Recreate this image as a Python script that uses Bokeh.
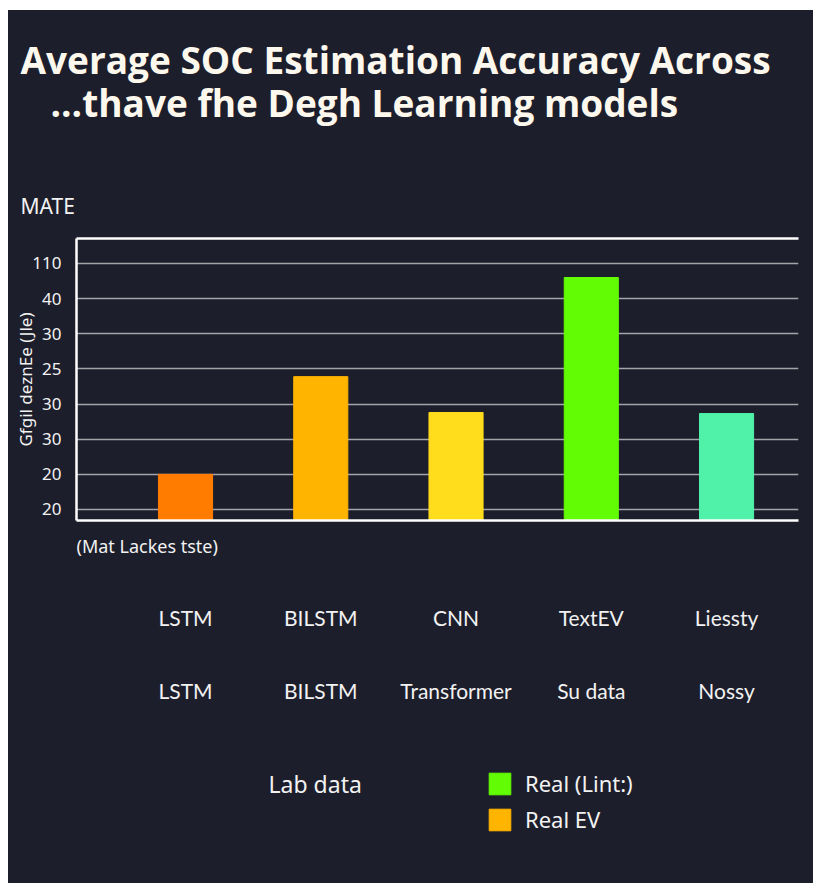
from bokeh.plotting import figure
from bokeh.layouts import column
from bokeh.core.properties import value
from bokeh.models import (ColumnDataSource, Range1d, FixedTicker, LinearAxis,
                          Label, LabelSet, Legend, LegendItem, Title)
from bokeh.embed import file_html
from bokeh.resources import INLINE

# ---- data ----
title_line1 = "Average SOC Estimation Accuracy Across"
title_line2 = "...thave fhe Degh Learning models"
models_top = ["LSTM", "BILSTM", "CNN", "TextEV", "Liessty"]
models_bottom = ["LSTM", "BILSTM", "Transformer", "Su data", "Nossy"]
values = [1.0, 3.78, 2.76, 6.6, 2.73]
bar_colors = ["#ff7c00", "#ffb400", "#ffdc1c", "#62fc05", "#4ff2a8"]
y_tick_pos = [0, 1, 2, 3, 4, 5, 6, 7]
y_tick_labels = ["20", "20", "30", "30", "25", "30", "40", "110"]
y_axis_title = "Gfgil deznEe (Jle)"
unit_label = "MATE"
note_label = "(Mat Lackes tste)"
legend_note = "Lab data"
legend_labels = ["Real (Lint:)", "Real EV"]
legend_index = [3, 1]

BG = "#1d1e2b"
FG = "#f2f2f2"
TITLE_C = "#fdf8ee"
W = 805
X0, X1 = -0.806, 4.532
Y0, Y1 = -0.313, 7.71

idx = list(range(len(models_top)))
src = ColumnDataSource(dict(x=idx, top=values, color=bar_colors,
                            top_lbl=models_top, bot_lbl=models_bottom))
x_range = Range1d(X0, X1)

# ---- main chart ----
p = figure(width=W, height=516, output_backend="svg", toolbar_location=None,
           x_range=x_range, y_range=Range1d(Y0, Y1),
           min_border_left=68, min_border_right=15, min_border_top=228,
           min_border_bottom=6, styles={"background-color": BG})
p.background_fill_color = BG
p.border_fill_color = BG
p.outline_line_color = None

p.vbar(x="x", top="top", bottom=Y0, width=0.4, fill_color="color",
       line_color="color", source=src)

p.xaxis.ticker = FixedTicker(ticks=[])
p.xaxis.axis_line_color = "white"
p.xaxis.axis_line_width = 2.5
p.xaxis.major_tick_line_color = None
p.xaxis.minor_tick_line_color = None
p.xaxis.major_label_text_font_size = "0px"

top_axis = LinearAxis(ticker=FixedTicker(ticks=[]), axis_line_color="white",
                      axis_line_width=2.5, major_tick_line_color=None,
                      minor_tick_line_color=None, major_label_text_font_size="0px")
p.add_layout(top_axis, "above")

# title stack (first added = closest to the frame)
p.add_layout(Title(text=unit_label, align="left", offset=-56, standoff=38,
                   text_font="Noto Sans", text_font_size="21px",
                   text_font_style="normal", text_color=FG), "above")
p.add_layout(Title(text=" ", align="left", standoff=27,
                   text_font="Noto Sans", text_font_size="10px",
                   text_color=BG), "above")
p.add_layout(Title(text=title_line2, align="left", offset=-26, standoff=0,
                   text_font="Open Sans", text_font_size="37px",
                   text_font_style="bold", text_color=TITLE_C), "above")
p.add_layout(Title(text=title_line1, align="left", offset=-56, standoff=-20,
                   text_font="Open Sans", text_font_size="37px",
                   text_font_style="bold", text_color=TITLE_C), "above")

p.yaxis.ticker = FixedTicker(ticks=y_tick_pos)
p.yaxis.major_label_overrides = {t: l for t, l in zip(y_tick_pos, y_tick_labels)}
p.yaxis.axis_line_color = "white"
p.yaxis.axis_line_width = 2.5
p.yaxis.major_tick_line_color = None
p.yaxis.minor_tick_line_color = None
p.yaxis.major_tick_out = 0
p.yaxis.major_label_standoff = 15
p.yaxis.major_label_text_color = FG
p.yaxis.major_label_text_font = "Noto Sans"
p.yaxis.major_label_text_font_size = "17px"
p.yaxis.axis_label = y_axis_title
p.yaxis.axis_label_text_color = FG
p.yaxis.axis_label_text_font = "Noto Sans"
p.yaxis.axis_label_text_font_size = "17px"
p.yaxis.axis_label_text_font_style = "normal"
p.yaxis.axis_label_standoff = -8

p.xgrid.grid_line_color = None
p.ygrid.grid_line_color = "#a3a3aa"
p.ygrid.grid_line_width = 1.5

# ---- bottom: note, category rows and legend ----
BH = 357
bot = figure(width=W, height=BH, output_backend="svg", toolbar_location=None,
             x_range=x_range, y_range=Range1d(BH, 0), x_axis_type=None,
             y_axis_type=None, min_border=0, styles={"background-color": BG})
bot.background_fill_color = BG
bot.border_fill_color = BG
bot.outline_line_color = None
bot.xgrid.grid_line_color = None
bot.ygrid.grid_line_color = None

bot.add_layout(Label(x=0, x_units="screen", y=19, text=note_label,
                     text_font="Noto Sans", text_font_size="18px",
                     text_color=FG, text_baseline="middle"))
bot.add_layout(LabelSet(x="x", y=91, text="top_lbl", source=src,
                        text_align="center", text_baseline="middle",
                        text_font=value("Lato"), text_font_size=value("21px"),
                        text_color=value(FG)))
bot.add_layout(LabelSet(x="x", y=164, text="bot_lbl", source=src,
                        text_align="center", text_baseline="middle",
                        text_font=value("Lato"), text_font_size=value("21px"),
                        text_color=value(FG)))
bot.add_layout(Label(x=192, x_units="screen", y=257, text=legend_note,
                     text_font="Noto Sans", text_font_size="23px",
                     text_color=FG, text_baseline="middle"))

ghost = bot.vbar(x="x", top="top", bottom=0, width=0.4, fill_color="color",
                 line_color="color", source=src, visible=False)
legend = Legend(items=[LegendItem(label=l, renderers=[ghost], index=i)
                       for l, i in zip(legend_labels, legend_index)],
                location=(410, 49), orientation="vertical",
                glyph_width=27, glyph_height=27, label_standoff=12, spacing=6,
                padding=0, margin=0, border_line_color=None,
                background_fill_alpha=0, inactive_fill_alpha=0,
                label_text_color=FG, click_policy="none",
                label_text_font="Noto Sans", label_text_font_size="22px",
                label_text_baseline="middle")
bot.add_layout(legend)

layout = column(p, bot, spacing=0, margin=(10, 0, 0, 8))
open("out.html", "w").write(file_html(layout, INLINE))
